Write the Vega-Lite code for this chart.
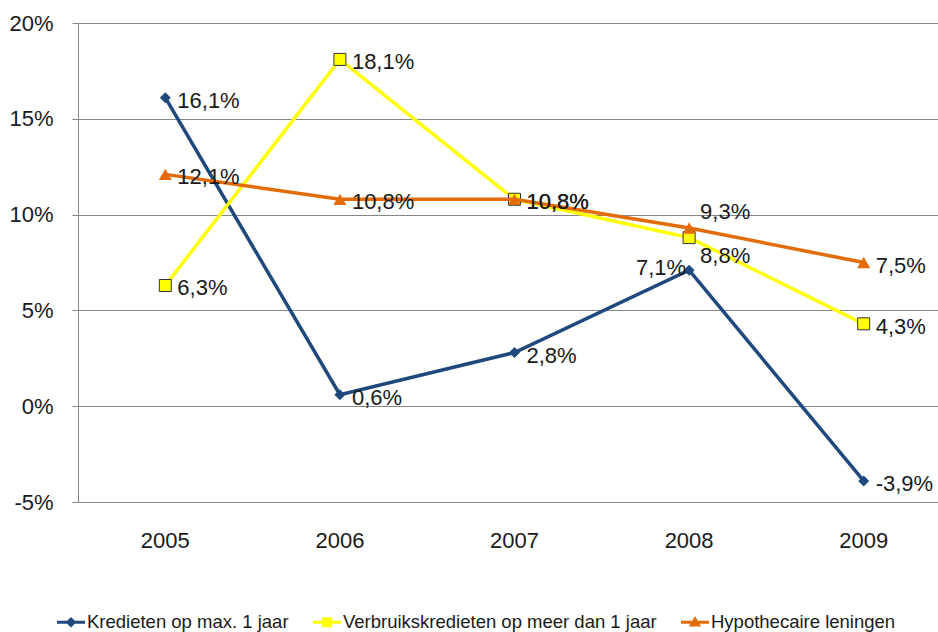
{
  "$schema": "https://vega.github.io/schema/vega-lite/v6.json",
  "width": 860,
  "height": 479,
  "autosize": "none",
  "padding": {"left": 78, "top": 23, "right": 0, "bottom": 130},
  "config": {
    "view": {"stroke": null},
    "font": "Liberation Sans Narrow, Arial Narrow, Liberation Sans, sans-serif",
    "locale": {"number": {"decimal": ",", "thousands": ".", "grouping": [3], "currency": ["", " €"], "minus": "-"}}
  },
  "datasets": {
    "series": [
      {"series": "Kredieten op max. 1 jaar", "year": "2005", "value": 0.161},
      {"series": "Kredieten op max. 1 jaar", "year": "2006", "value": 0.006},
      {"series": "Kredieten op max. 1 jaar", "year": "2007", "value": 0.028},
      {"series": "Kredieten op max. 1 jaar", "year": "2008", "value": 0.071},
      {"series": "Kredieten op max. 1 jaar", "year": "2009", "value": -0.039},
      {"series": "Verbruikskredieten op meer dan 1 jaar", "year": "2005", "value": 0.063},
      {"series": "Verbruikskredieten op meer dan 1 jaar", "year": "2006", "value": 0.181},
      {"series": "Verbruikskredieten op meer dan 1 jaar", "year": "2007", "value": 0.108},
      {"series": "Verbruikskredieten op meer dan 1 jaar", "year": "2008", "value": 0.088},
      {"series": "Verbruikskredieten op meer dan 1 jaar", "year": "2009", "value": 0.043},
      {"series": "Hypothecaire leningen", "year": "2005", "value": 0.121},
      {"series": "Hypothecaire leningen", "year": "2006", "value": 0.108},
      {"series": "Hypothecaire leningen", "year": "2007", "value": 0.108},
      {"series": "Hypothecaire leningen", "year": "2008", "value": 0.093},
      {"series": "Hypothecaire leningen", "year": "2009", "value": 0.075}
    ],
    "years": [{"year": "2005"}, {"year": "2006"}, {"year": "2007"}, {"year": "2008"}, {"year": "2009"}]
  },
  "data": {"name": "series"},
  "encoding": {
    "x": {
      "field": "year", "type": "ordinal", "bandPosition": 0.5,
      "scale": {"type": "band", "paddingInner": 0, "paddingOuter": 0, "range": [0, 873]},
      "axis": {"title": null, "domain": false, "ticks": false, "grid": false, "labelAngle": 0, "labelPadding": 28, "labelFontSize": 22, "labelColor": "#1a1a1a", "labelFont": "Liberation Sans Narrow, Arial Narrow, Liberation Sans, sans-serif"}
    },
    "y": {
      "field": "value", "type": "quantitative",
      "scale": {"domain": [-0.05, 0.2], "nice": false, "zero": false},
      "axis": {"title": null, "values": [-0.05, 0, 0.05, 0.1, 0.15, 0.2], "format": ".0%", "grid": true, "gridColor": "#868686", "gridWidth": 1, "gridOpacity": 1, "domainColor": "#868686", "tickColor": "#868686", "tickSize": 6, "labelPadding": 19, "labelFontSize": 22, "labelColor": "#1a1a1a", "labelFont": "Liberation Sans Narrow, Arial Narrow, Liberation Sans, sans-serif"}
    }
  },
  "layer": [
    {
      "data": {"name": "years"},
      "mark": {"type": "rule", "color": "#868686", "strokeWidth": 1},
      "encoding": {
        "x": {"field": "year", "type": "ordinal", "bandPosition": 0},
        "y": {"datum": 0},
        "y2": {"datum": -0.0037}
      }
    },
    {
      "transform": [{"filter": "datum.series === 'Kredieten op max. 1 jaar'"}],
      "mark": {"type": "line", "strokeWidth": 3.5},
      "encoding": {
        "color": {
          "field": "series", "type": "nominal",
          "scale": {"domain": ["Kredieten op max. 1 jaar", "Verbruikskredieten op meer dan 1 jaar", "Hypothecaire leningen"], "range": ["#1F497D", "#FFFF00", "#E36C09"]},
          "legend": {
            "orient": "none", "legendX": -21, "legendY": 585, "direction": "horizontal", "columns": 3,
            "title": null, "labelFontSize": 18.5, "labelFont": "Liberation Sans Narrow, Arial Narrow, Liberation Sans, sans-serif", "labelColor": "#1a1a1a",
            "symbolSize": 784, "columnPadding": 24, "labelOffset": 2, "labelLimit": 500,
            "encode": {
              "symbols": {
                "update": {
                  "fill": {"scale": "color", "field": "value"},
                  "stroke": {"value": "transparent"},
                  "strokeWidth": {"value": 0},
                  "opacity": {"value": 1},
                  "shape": {"signal": "datum.value === 'Kredieten op max. 1 jaar' ? 'M-1,-0.1H1V0.1H-1Z M0,-0.38L0.38,0L0,0.38L-0.38,0Z' : datum.value === 'Verbruikskredieten op meer dan 1 jaar' ? 'M-1,-0.1H1V0.1H-1Z M-0.36,-0.36H0.36V0.36H-0.36Z' : 'M-1,-0.1H1V0.1H-1Z M0,-0.44L0.44,0.3H-0.44Z'"}
                }
              }
            }
          }
        }
      }
    },
    {
      "transform": [{"filter": "datum.series === 'Kredieten op max. 1 jaar'"}],
      "mark": {"type": "point", "shape": "diamond", "filled": true, "size": 121, "opacity": 1},
      "encoding": {"color": {"field": "series", "type": "nominal"}}
    },
    {
      "transform": [{"filter": "datum.series === 'Verbruikskredieten op meer dan 1 jaar'"}],
      "mark": {"type": "line", "strokeWidth": 3.5},
      "encoding": {"color": {"field": "series", "type": "nominal"}}
    },
    {
      "transform": [{"filter": "datum.series === 'Verbruikskredieten op meer dan 1 jaar'"}],
      "mark": {"type": "point", "shape": "square", "filled": true, "size": 144, "opacity": 1, "stroke": "#333333", "strokeWidth": 1},
      "encoding": {"color": {"field": "series", "type": "nominal"}}
    },
    {
      "transform": [{"filter": "datum.series === 'Hypothecaire leningen'"}],
      "mark": {"type": "line", "strokeWidth": 3.5},
      "encoding": {"color": {"field": "series", "type": "nominal"}}
    },
    {
      "transform": [{"filter": "datum.series === 'Hypothecaire leningen'"}],
      "mark": {"type": "point", "shape": "triangle-up", "filled": true, "size": 170, "opacity": 1},
      "encoding": {"color": {"field": "series", "type": "nominal"}}
    },
    {
      "transform": [{"filter": "datum.year !== '2008'"}],
      "mark": {"type": "text", "align": "left", "baseline": "middle", "dx": 12, "dy": 3, "fontSize": 22, "color": "#1a1a1a"},
      "encoding": {"text": {"field": "value", "type": "quantitative", "format": ".1%"}}
    },
    {
      "transform": [{"filter": "datum.year === '2008' && datum.series === 'Kredieten op max. 1 jaar'"}],
      "mark": {"type": "text", "align": "right", "baseline": "middle", "dx": -3, "dy": -2, "fontSize": 22, "color": "#1a1a1a"},
      "encoding": {"text": {"field": "value", "type": "quantitative", "format": ".1%"}}
    },
    {
      "transform": [{"filter": "datum.year === '2008' && datum.series === 'Hypothecaire leningen'"}],
      "mark": {"type": "text", "align": "left", "baseline": "middle", "dx": 11, "dy": -16, "fontSize": 22, "color": "#1a1a1a"},
      "encoding": {"text": {"field": "value", "type": "quantitative", "format": ".1%"}}
    },
    {
      "transform": [{"filter": "datum.year === '2008' && datum.series === 'Verbruikskredieten op meer dan 1 jaar'"}],
      "mark": {"type": "text", "align": "left", "baseline": "middle", "dx": 11, "dy": 18, "fontSize": 22, "color": "#1a1a1a"},
      "encoding": {"text": {"field": "value", "type": "quantitative", "format": ".1%"}}
    }
  ]
}
